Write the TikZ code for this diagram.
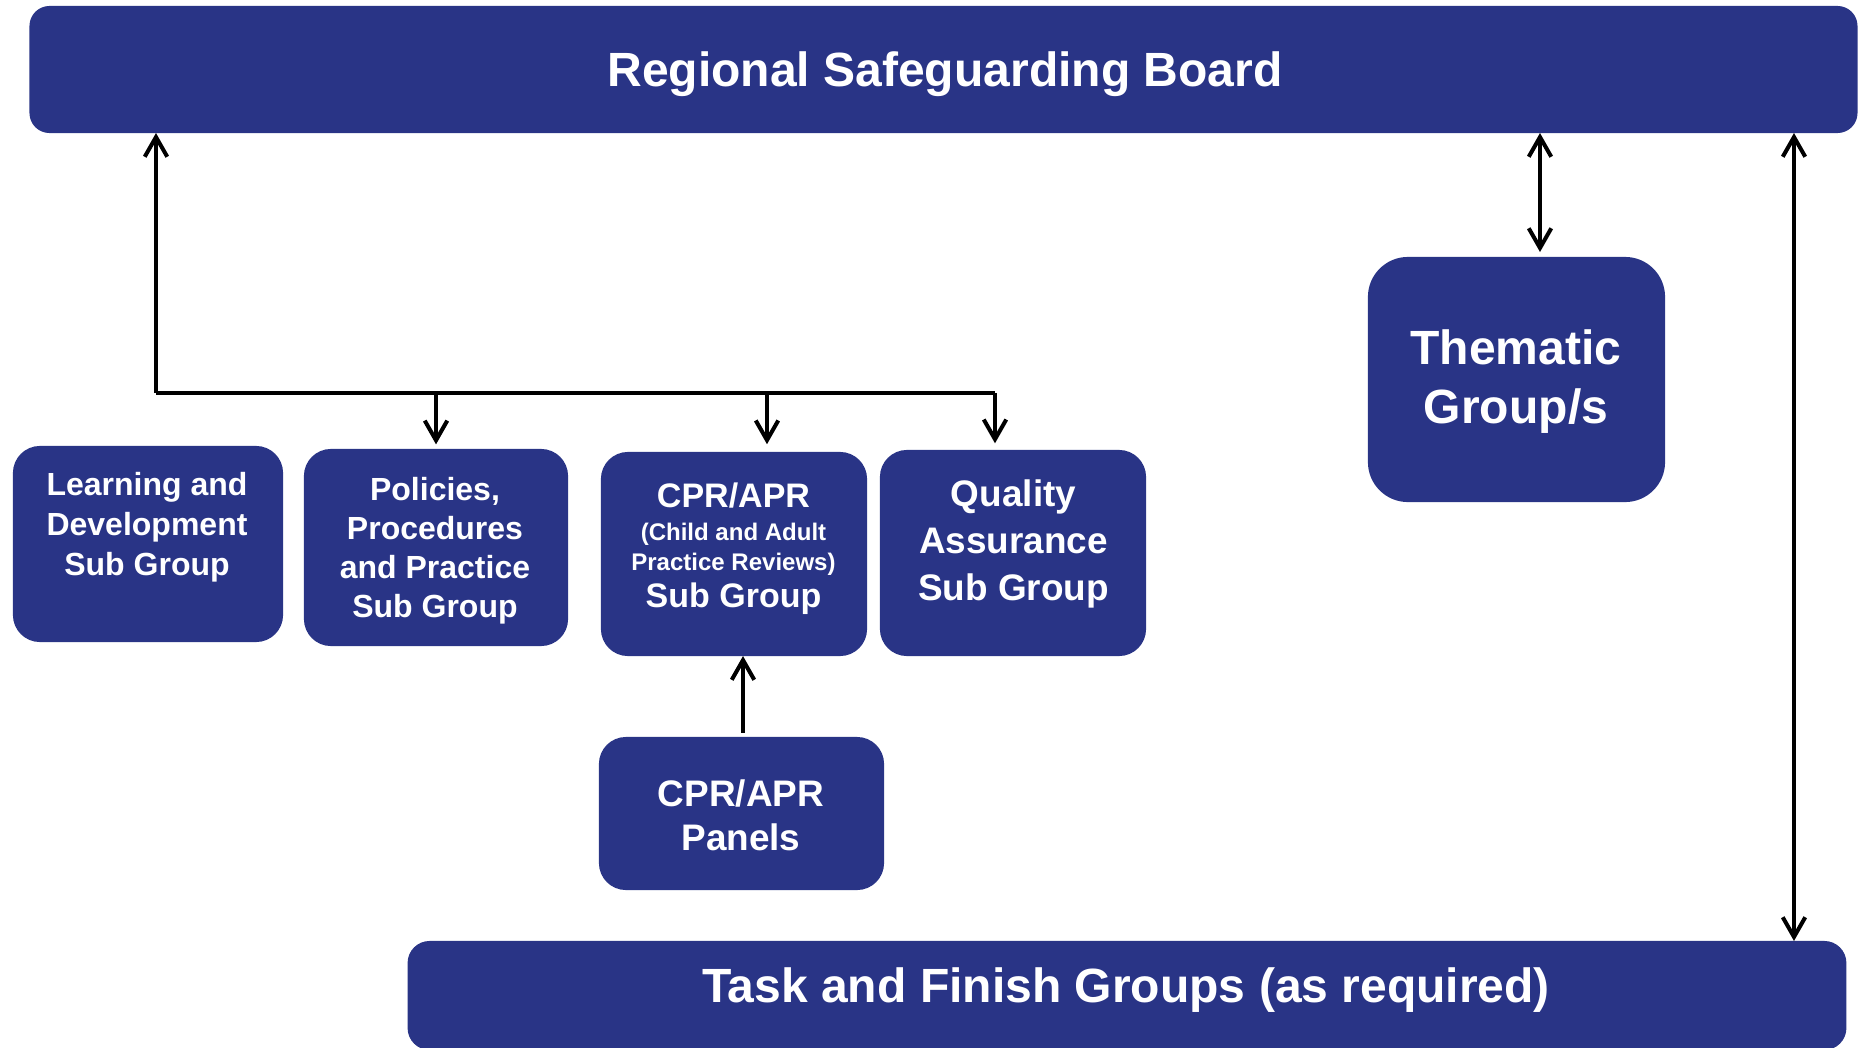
\documentclass[tikz,border=0pt]{standalone}
\usepackage{fontspec}
\setmainfont{Liberation Sans}
\usetikzlibrary{arrows.meta}
\definecolor{navy}{RGB}{41,52,134}
\tikzset{
  box/.style={fill=navy, draw=none, inner sep=0pt, outer sep=0pt},
  conn/.style={draw=black, line width=1.14pt, line cap=butt},
  onetip/.style={-{Straight Barb[length=5.6pt,width=6.4pt,line width=1.14pt]}},
  twotip/.style={{Straight Barb[length=5.6pt,width=6.4pt,line width=1.14pt]}-{Straight Barb[length=5.6pt,width=6.4pt,line width=1.14pt]}},
  lbl/.style={text=white, anchor=base, inner sep=0pt, outer sep=0pt},
  fA/.style={lbl, font=\fontsize{9.1pt}{11pt}\selectfont\bfseries},
  fB/.style={lbl, font=\fontsize{9.67pt}{11.5pt}\selectfont\bfseries},
  fC/.style={lbl, font=\fontsize{6.83pt}{8pt}\selectfont\bfseries},
  fD/.style={lbl, font=\fontsize{10.5pt}{12.5pt}\selectfont\bfseries},
  fE/.style={lbl, font=\fontsize{13.66pt}{16pt}\selectfont\bfseries},
}
\begin{document}
\begin{tikzpicture}[x=0.01cm,y=-0.01cm]
\useasboundingbox (0,0) rectangle (1859,1048);

% boxes
\node[box, rounded corners=0.2cm, minimum width=18.27cm, minimum height=1.27cm] (board) at (943.5,69.5) {};
\node[box, rounded corners=0.27cm, minimum width=2.70cm, minimum height=1.96cm] (lrn) at (148,544) {};
\node[box, rounded corners=0.27cm, minimum width=2.64cm, minimum height=1.97cm] (pol) at (436,547.5) {};
\node[box, rounded corners=0.27cm, minimum width=2.66cm, minimum height=2.04cm] (cpr) at (734,554) {};
\node[box, rounded corners=0.27cm, minimum width=2.66cm, minimum height=2.06cm] (qa) at (1013,553) {};
\node[box, rounded corners=0.27cm, minimum width=2.85cm, minimum height=1.53cm] (pan) at (741.5,813.5) {};
\node[box, rounded corners=0.40cm, minimum width=2.97cm, minimum height=2.45cm] (thm) at (1516.5,379.5) {};
\node[box, rounded corners=0.22cm, minimum width=14.38cm, minimum height=1.09cm] (task) at (1127,995.5) {};

% texts
\node[fE] (boardT) at (945,86) {Regional Safeguarding Board};
\node[fE] (taskT) at (1126,1002) {Task and Finish Groups (as required)};
\node[fE] (thmA) at (1516,364) {Thematic};
\node[fE] (thmB) at (1516,423) {Group/s};

\node[fA] (lrnA) at (147,495) {Learning and};
\node[fA] (lrnB) at (147,535) {Development};
\node[fA] (lrnC) at (147,575) {Sub Group};

\node[fA] (polA) at (435,500) {Policies,};
\node[fA] (polB) at (435,539) {Procedures};
\node[fA] (polC) at (435,578) {and Practice};
\node[fA] (polD) at (435,617) {Sub Group};

\node[fB] (cprA) at (733.5,507) {CPR/APR};
\node[fC] (cprB) at (733.5,540) {(Child and Adult};
\node[fC] (cprC) at (733.5,570) {Practice Reviews)};
\node[fB] (cprD) at (733.5,607) {Sub Group};

\node[fD] (qaA) at (1013.5,506) {Quality};
\node[fD] (qaB) at (1013.5,553) {Assurance};
\node[fD] (qaC) at (1013.5,600) {Sub Group};

\node[fD] (panA) at (741,806) {CPR/APR};
\node[fD] (panB) at (741,850) {Panels};

% connector helper coordinates
\coordinate (trunk) at (156,393);
\coordinate (trunkend) at (995,393);
\coordinate (d1) at (436,393);
\coordinate (d2) at (767,393);
\coordinate (d3) at (995,393);
\coordinate (tc) at (1540,200);
\coordinate (rc) at (1794,500);

% connectors
\draw[conn, onetip] (trunk) -- (board.south -| trunk);
\draw[conn] (trunk) -- (trunkend);
\draw[conn, onetip, shorten >=1.3pt] (d1) -- (pol.north -| d1);
\draw[conn, onetip, shorten >=2.2pt] (d2) -- (cpr.north -| d2);
\draw[conn, onetip, shorten >=1.9pt] (d3) -- (qa.north -| d3);
\draw[conn, onetip, shorten <=1.2pt] (pan.north -| 743,0) -- (cpr.south -| 743,0);
\draw[conn, twotip, shorten >=1.4pt] (board.south -| tc) -- (thm.north -| tc);
\draw[conn, twotip] (board.south -| rc) -- (task.north -| rc);
\end{tikzpicture}
\end{document}
